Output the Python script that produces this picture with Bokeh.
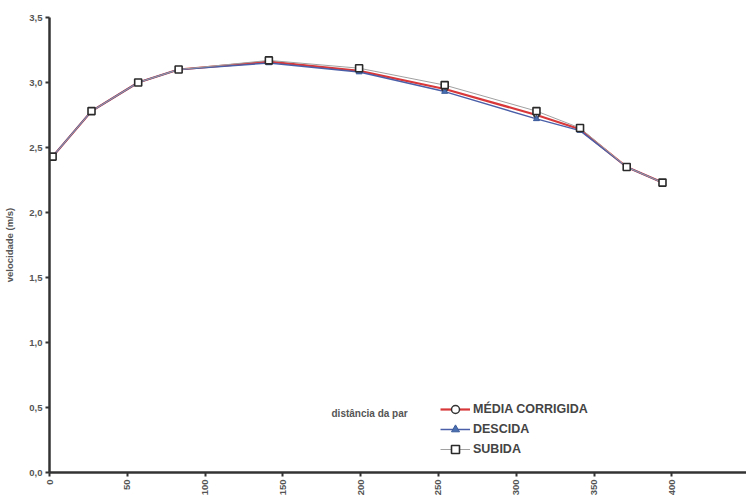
import math
from bokeh.plotting import figure
from bokeh.models import Legend, LegendItem, Label, Range1d, FixedTicker, CustomJSTickFormatter
from bokeh.embed import file_html
from bokeh.resources import INLINE

# data
distancia = [2, 27, 57, 83, 141, 199, 254, 313, 341, 371, 394]
media_corrigida = [2.43, 2.78, 3.00, 3.10, 3.16, 3.09, 2.95, 2.75, 2.64, 2.35, 2.23]
descida = [2.43, 2.78, 3.00, 3.10, 3.15, 3.08, 2.93, 2.72, 2.63, 2.35, 2.23]
subida = [2.43, 2.78, 3.00, 3.10, 3.17, 3.11, 2.98, 2.78, 2.65, 2.35, 2.23]
x_ticks = [0, 50, 100, 150, 200, 250, 300, 350, 400, 450]
y_ticks = [0.0, 0.5, 1.0, 1.5, 2.0, 2.5, 3.0, 3.5]
series_names = ["MÉDIA CORRIGIDA", "DESCIDA", "SUBIDA"]

FONT = "Liberation Sans"
GRAY = "#555555"

p = figure(width=746, height=499, output_backend="svg", toolbar_location=None,
           x_range=Range1d(0, 448), y_range=Range1d(0, 3.5),
           frame_width=697, frame_height=455,
           min_border_left=49, min_border_right=0, min_border_top=17, min_border_bottom=27)
p.outline_line_color = None
p.xgrid.visible = False
p.ygrid.visible = False
p.background_fill_color = "white"

for ax in (p.xaxis[0], p.yaxis[0]):
    ax.axis_line_color = "#333333"
    ax.axis_line_width = 2.5
    ax.major_tick_line_color = "#333333"
    ax.major_tick_line_width = 2
    ax.major_tick_in = 0
    ax.major_tick_out = 4
    ax.minor_tick_line_color = None
    ax.major_label_text_font = FONT
    ax.major_label_text_font_size = "9.5px"
    ax.major_label_text_font_style = "bold"
    ax.major_label_text_color = GRAY
    ax.major_label_standoff = 3

p.xaxis.ticker = FixedTicker(ticks=x_ticks)
p.yaxis.ticker = FixedTicker(ticks=y_ticks)
p.yaxis.formatter = CustomJSTickFormatter(code="return tick.toFixed(1).replace('.', ',');")
p.xaxis.major_label_orientation = math.pi / 2

p.yaxis.axis_label = "velocidade (m/s)"
p.yaxis.axis_label_text_font = FONT
p.yaxis.axis_label_text_font_size = "9.5px"
p.yaxis.axis_label_text_font_style = "bold"
p.yaxis.axis_label_text_color = GRAY
p.yaxis.axis_label_standoff = 11

# series
r_med_l = p.line(distancia, media_corrigida, line_color="#d9383a", line_width=2.2)
r_des_l = p.line(distancia, descida, line_color="#4a5fa8", line_width=1.5)
r_sub_l = p.line(distancia, subida, line_color="#a0a0a0", line_width=1)
r_med_m = p.scatter(distancia, media_corrigida, marker="circle", size=5,
                    line_color="#333333", fill_color="white", line_width=1.5)
r_des_m = p.scatter(distancia, descida, marker="triangle", size=6,
                    line_color="#3a5a9a", fill_color="#4a6fb0", line_width=1)
r_sub_m = p.scatter(distancia, subida, marker="square", size=7,
                    line_color="#2a2a2a", fill_color="white", line_width=1.6)

legend = Legend(items=[
    LegendItem(label=series_names[0], renderers=[r_med_l, r_med_m]),
    LegendItem(label=series_names[1], renderers=[r_des_l, r_des_m]),
    LegendItem(label=series_names[2], renderers=[r_sub_l, r_sub_m]),
], location=(391, 13))
legend.background_fill_alpha = 0
legend.border_line_color = None
legend.padding = 0
legend.margin = 0
legend.spacing = 0
legend.glyph_width = 30
legend.glyph_height = 20
legend.label_height = 20
legend.label_standoff = 3
legend.label_text_font = FONT
legend.label_text_font_size = "12.5px"
legend.label_text_font_style = "bold"
legend.label_text_color = "#444444"
p.add_layout(legend, "center")

p.add_layout(Label(x=282, y=59, x_units="screen", y_units="screen",
                   text="distância da par", text_font=FONT, text_font_size="10px",
                   text_font_style="bold", text_color=GRAY, text_baseline="middle"))

open("out.html", "w").write(file_html(p, INLINE))
